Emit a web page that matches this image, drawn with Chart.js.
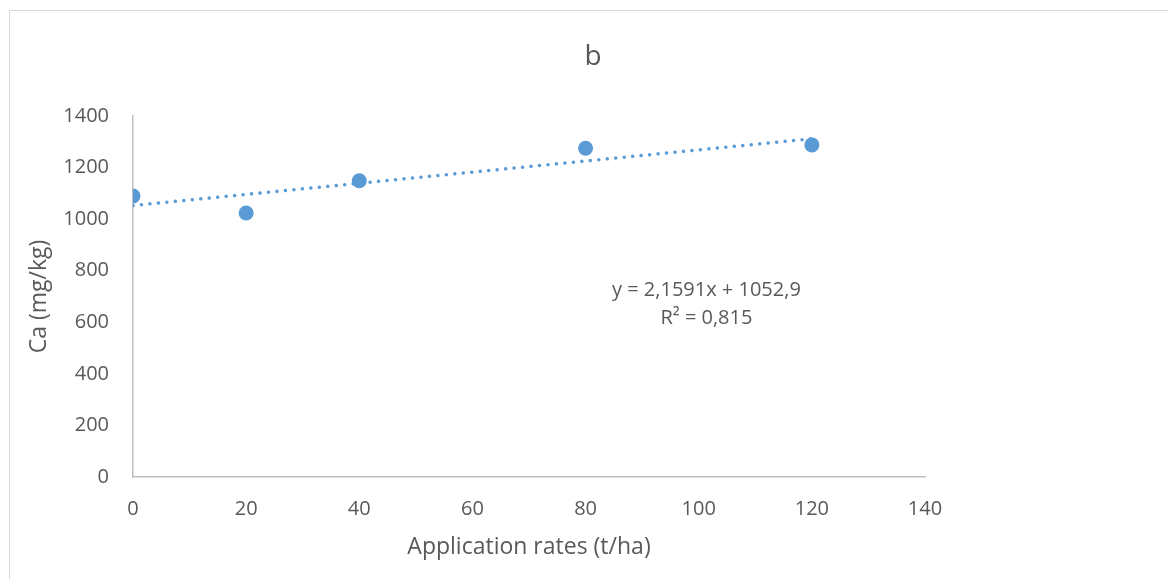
<!DOCTYPE html>
<html>
<head>
<meta charset="utf-8">
<script src="https://cdn.jsdelivr.net/npm/chart.js@4.4.1/dist/chart.umd.min.js"></script>
<style>
  html, body { margin: 0; padding: 0; background: #ffffff; }
  #wrap { width: 1168px; height: 579px; }
</style>
</head>
<body>
<div id="wrap"><canvas id="c" width="1168" height="579"></canvas></div>
<script>
// ---- data ----
const applicationRates = [0, 20, 40, 80, 120];
const caValues = [1090, 1024, 1149, 1275, 1288];
const trendSlope = 2.1591;
const trendIntercept = 1052.9;
const trendRange = [0, 120];
const equationLines = ['y = 2,1591x + 1052,9', 'R\u00B2 = 0,815'];
const xTicks = [0, 20, 40, 60, 80, 100, 120, 140];
const yTicks = [0, 200, 400, 600, 800, 1000, 1200, 1400];
const chartTitle = 'b';
const xTitle = 'Application rates (t/ha)';
const yTitle = 'Ca (mg/kg)';

const FONT = "'Open Sans', 'Noto Sans', sans-serif";
const TEXT = '#595959';
const BLUE = '#5B9BD5';

const points = applicationRates.map((x, i) => ({ x: x, y: caValues[i] }));
const trend = trendRange.map(x => ({ x: x, y: trendSlope * x + trendIntercept }));

const frame = {
  id: 'frame',
  beforeDraw(chart) {
    const ctx = chart.ctx;
    ctx.save();
    ctx.fillStyle = '#ffffff';
    ctx.fillRect(0, 0, chart.width, chart.height);
    ctx.strokeStyle = '#d9d9d9';
    ctx.lineWidth = 1;
    ctx.strokeRect(9.5, 10.5, 1300, 700);
    ctx.restore();
  }
};

const equation = {
  id: 'equation',
  afterDraw(chart) {
    const ctx = chart.ctx;
    const a = chart.chartArea;
    ctx.save();
    ctx.font = '20px ' + FONT;
    ctx.fillStyle = TEXT;
    ctx.textAlign = 'center';
    ctx.textBaseline = 'middle';
    const cx = a.left + (a.right - a.left) * 0.724;
    ctx.fillText(equationLines[0], cx, a.top + 174);
    ctx.fillText(equationLines[1], cx, a.top + 202);
    ctx.restore();
  }
};

new Chart(document.getElementById('c'), {
  type: 'scatter',
  data: {
    datasets: [
      {
        label: 'Ca',
        data: points,
        backgroundColor: BLUE,
        borderColor: BLUE,
        borderWidth: 0,
        pointRadius: 7.5,
        pointHoverRadius: 7.5,
        order: 0
      },
      {
        type: 'line',
        label: 'Linear trend',
        data: trend,
        borderColor: BLUE,
        borderWidth: 3.5,
        borderDash: [0.01, 8.5],
        borderCapStyle: 'round',
        pointRadius: 0,
        fill: false,
        tension: 0,
        order: 1
      }
    ]
  },
  options: {
    responsive: false,
    animation: false,
    events: [],
    layout: { padding: { top: 0, left: 18, right: 0, bottom: 0 } },
    plugins: {
      legend: { display: false },
      tooltip: { enabled: false },
      title: {
        display: true,
        text: chartTitle,
        color: TEXT,
        font: { family: FONT, size: 28, weight: 'normal' },
        padding: { top: 40, bottom: 42.4 }
      }
    },
    scales: {
      x: {
        type: 'linear',
        min: 0,
        max: 140,
        afterBuildTicks(scale) { scale.ticks = xTicks.map(v => ({ value: v })); },
        afterFit(scale) { scale.height = 102; },
        grid: { display: false, drawTicks: false },
        border: { display: true, color: '#bfbfbf', width: 1.5 },
        ticks: { color: TEXT, font: { family: FONT, size: 20 }, padding: 20, maxRotation: 0,
                 callback: v => String(v) },
        title: {
          display: true,
          text: xTitle,
          color: TEXT,
          font: { family: FONT, size: 23 },
          padding: { top: 0, bottom: 18 }
        }
      },
      y: {
        type: 'linear',
        min: 0,
        max: 1400,
        afterBuildTicks(scale) { scale.ticks = yTicks.map(v => ({ value: v })); },
        afterFit(scale) { scale.width = 115; },
        grid: { display: false, drawTicks: false },
        border: { display: true, color: '#bfbfbf', width: 1.5 },
        ticks: { color: TEXT, font: { family: FONT, size: 20 }, padding: 24,
                 callback: v => String(v) },
        title: {
          display: true,
          text: yTitle,
          color: TEXT,
          font: { family: FONT, size: 23 },
          padding: { top: 8, bottom: 0 }
        }
      },
      yRight: {
        type: 'linear',
        position: 'right',
        min: 0,
        max: 1400,
        afterFit(scale) { scale.width = 243; },
        grid: { display: false, drawTicks: false },
        border: { display: false },
        ticks: { display: false }
      }
    }
  },
  plugins: [frame, equation]
});
</script>
</body>
</html>
